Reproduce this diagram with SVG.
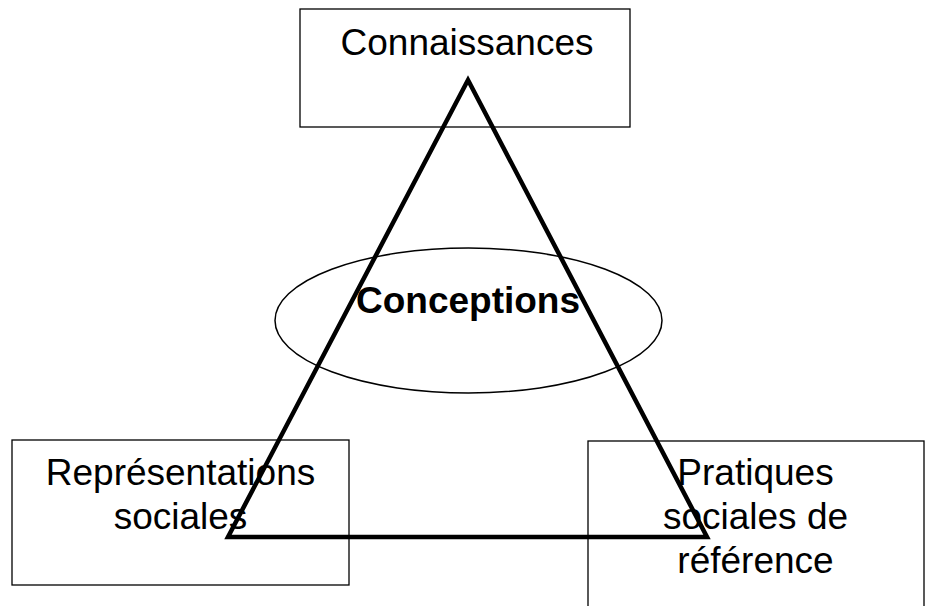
<svg xmlns="http://www.w3.org/2000/svg" width="925" height="606" viewBox="0 0 925 606">
<style>
.box{fill:#fff;stroke:#000;stroke-width:1.3}
.t{font-family:"Liberation Sans",Arial,sans-serif;font-size:37px;fill:#000;text-anchor:middle}
.b{font-weight:bold}
.edge{fill:none;stroke:#000;stroke-width:4.5;stroke-linejoin:miter}
</style>
<rect width="925" height="606" fill="#fff"/>
<g id="connaissances">
<rect class="box" x="300" y="9" width="330" height="118"/>
<text class="t" x="467" y="55">Connaissances</text>
</g>
<g id="representations">
<rect class="box" x="12" y="440" width="337" height="145"/>
<text class="t" x="180.5" y="485">Représentations</text>
<text class="t" x="180.5" y="529">sociales</text>
</g>
<g id="pratiques">
<rect class="box" x="588" y="441" width="336" height="180"/>
<text class="t" x="755.5" y="485">Pratiques</text>
<text class="t" x="755.5" y="529">sociales de</text>
<text class="t" x="755.5" y="573">référence</text>
</g>
<g id="conceptions">
<ellipse cx="468.5" cy="320.5" rx="193.5" ry="72.5" fill="none" stroke="#000" stroke-width="1.5"/>
</g>
<g id="connectors">
<polygon class="edge" points="468,80 228,537 707,537"/>
</g>
<g id="conceptions-label">
<text class="t b" x="468" y="313">Conceptions</text>
</g>
</svg>
